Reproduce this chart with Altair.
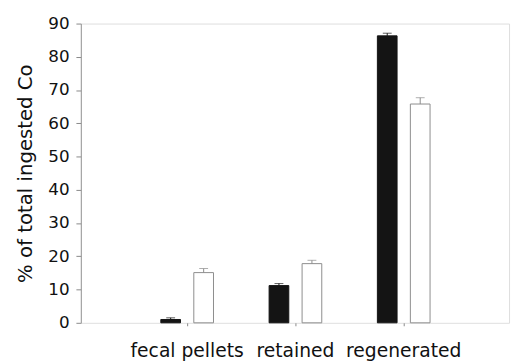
import altair as alt
import pandas as pd

categories = ["fecal pellets", "retained", "regenerated"]
series = ["black", "white"]
black_values = [1.0, 11.2, 86.3]
black_err = [0.5, 0.6, 0.8]
white_values = [15.1, 17.8, 65.8]
white_err = [1.2, 1.0, 1.9]
y_ticks = [0, 10, 20, 30, 40, 50, 60, 70, 80, 90]

rows = []
for i, c in enumerate(categories):
    rows.append({"cat": c, "series": "black", "value": black_values[i],
                 "upper": black_values[i] + black_err[i]})
    rows.append({"cat": c, "series": "white", "value": white_values[i],
                 "upper": white_values[i] + white_err[i]})
df = pd.DataFrame(rows)

FONT = "DejaVu Sans"

x = alt.X("cat:N", sort=categories,
          scale=alt.Scale(range=[53, 383], paddingInner=0, paddingOuter=0),
          axis=alt.Axis(title=None, domain=False, ticks=True, tickSize=3,
                        tickColor="#888", labelAngle=0, labelFont=FONT,
                        labelFontSize=19, labelColor="#111", labelPadding=16,
                        labelOverlap=False, grid=False))
xo = alt.XOffset("series:N", sort=series,
                 scale=alt.Scale(paddingInner=0.403, paddingOuter=0.843))
yscale = alt.Scale(domain=[0, 90], nice=False)
yaxis = alt.Axis(title="% of total ingested Co", values=y_ticks,
                 tickCount=10, labelOverlap=False,
                 grid=False, domainColor="#999", tickColor="#888",
                 tickSize=5, labelFont=FONT, labelFontSize=17,
                 labelColor="#111", labelPadding=7,
                 titleFont=FONT, titleFontSize=20,
                 titleFontWeight="normal", titleColor="#111",
                 titlePadding=12)

stroke_scale = alt.Scale(domain=series, range=["#141414", "#8c8c8c"])

bars = alt.Chart(df).mark_bar(strokeWidth=1).encode(
    x=x, xOffset=xo, y=alt.Y("value:Q", scale=yscale, axis=yaxis),
    color=alt.Color("series:N", scale=alt.Scale(domain=series,
                    range=["#141414", "#ffffff"]), legend=None),
    stroke=alt.Stroke("series:N", scale=stroke_scale, legend=None))

err = alt.Chart(df).mark_rule(strokeWidth=1).encode(
    x=x, xOffset=xo, y=alt.Y("value:Q", scale=yscale, axis=yaxis),
    y2="upper:Q",
    stroke=alt.Stroke("series:N", scale=stroke_scale, legend=None))

caps = alt.Chart(df).mark_tick(size=9, thickness=1).encode(
    x=x, xOffset=xo, y=alt.Y("upper:Q", scale=yscale, axis=yaxis),
    color=alt.Color("series:N", scale=stroke_scale, legend=None))

chart = alt.layer(bars, err, caps).resolve_scale(color="independent").properties(
    width=435, height=304,
    autosize=alt.AutoSizeParams(type="none"),
    padding={"left": 74, "top": 13, "right": 3, "bottom": 37},
).configure_view(stroke="#b0b0b0", strokeWidth=1).configure(background="white")

chart.save("out.html", embed_options={"renderer": "svg", "actions": False})
